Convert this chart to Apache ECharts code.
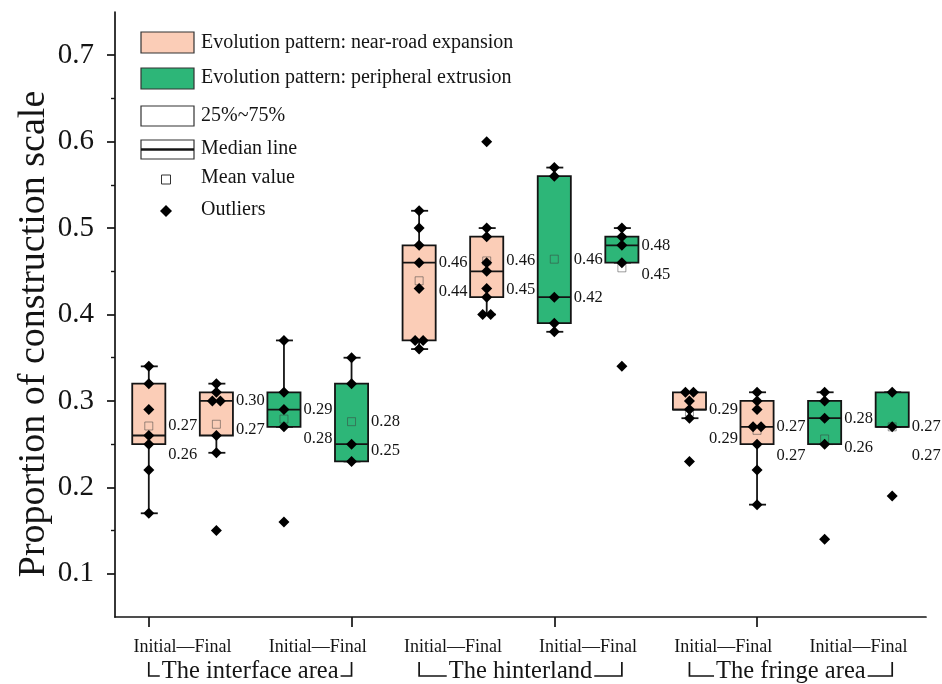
<!DOCTYPE html>
<html><head><meta charset="utf-8">
<script src="https://cdn.jsdelivr.net/npm/echarts@6/dist/echarts.min.js"></script>
<style>html,body{margin:0;padding:0;background:#fff}#c{width:942px;height:684px}</style>
</head><body><div id="c"></div>
<script>
// ---------------- data ----------------
const areas = ['The interface area', 'The hinterland', 'The fringe area'];
const pairLabels = ['Initial—Final', 'Initial—Final', 'Initial—Final', 'Initial—Final', 'Initial—Final', 'Initial—Final'];
const categories = [
  'Interface NR Initial', 'Interface NR Final', 'Interface PE Initial', 'Interface PE Final',
  'Hinterland NR Initial', 'Hinterland NR Final', 'Hinterland PE Initial', 'Hinterland PE Final',
  'Fringe NR Initial', 'Fringe NR Final', 'Fringe PE Initial', 'Fringe PE Final'
];
const patterns = ['near-road', 'near-road', 'peripheral', 'peripheral',
                  'near-road', 'near-road', 'peripheral', 'peripheral',
                  'near-road', 'near-road', 'peripheral', 'peripheral'];
// [lower whisker, Q1, median, Q3, upper whisker]
const boxStats = [
  [0.17, 0.25, 0.26, 0.32, 0.34],
  [0.24, 0.26, 0.30, 0.31, 0.32],
  [0.27, 0.27, 0.29, 0.31, 0.37],
  [0.23, 0.23, 0.25, 0.32, 0.35],
  [0.36, 0.37, 0.46, 0.48, 0.52],
  [0.40, 0.42, 0.45, 0.49, 0.50],
  [0.38, 0.39, 0.42, 0.56, 0.57],
  [0.46, 0.46, 0.48, 0.49, 0.50],
  [0.28, 0.29, 0.29, 0.31, 0.31],
  [0.18, 0.25, 0.27, 0.30, 0.31],
  [0.25, 0.25, 0.28, 0.30, 0.31],
  [0.27, 0.27, 0.27, 0.31, 0.31]
];
const means = [0.271, 0.273, 0.279, 0.276, 0.439, 0.462, 0.464, 0.454, 0.287, 0.266, 0.256, 0.27];
const points = [
  [0.34, 0.32, 0.29, 0.26, 0.25, 0.22, 0.17],
  [0.32, 0.31, 0.30, 0.30, 0.26, 0.24],
  [0.37, 0.31, 0.29, 0.27],
  [0.35, 0.32, 0.25, 0.23],
  [0.52, 0.50, 0.48, 0.46, 0.43, 0.37, 0.37, 0.36],
  [0.50, 0.49, 0.46, 0.45, 0.43, 0.42, 0.40, 0.40],
  [0.57, 0.56, 0.42, 0.39, 0.38],
  [0.50, 0.49, 0.48, 0.46],
  [0.31, 0.31, 0.30, 0.29, 0.28],
  [0.31, 0.30, 0.29, 0.27, 0.27, 0.25, 0.22, 0.18],
  [0.31, 0.30, 0.28, 0.25],
  [0.31, 0.27]
];
const outliers = [[], [0.15], [0.16], [], [], [0.60], [], [0.34], [0.23], [], [0.14], [0.19]];
const yMajorTicks = [0.1, 0.2, 0.3, 0.4, 0.5, 0.6, 0.7];
const yMinorTicks = [0.15, 0.25, 0.35, 0.45, 0.55, 0.65];
const yAxisName = 'Proportion of construction scale';
const legendLabels = [
  'Evolution pattern: near-road expansion',
  'Evolution pattern: peripheral extrusion',
  '25%~75%',
  'Median line',
  'Mean value',
  'Outliers'
];

// ---------------- styles ----------------
const FONT = '"Liberation Serif", "Times New Roman", serif';
const INK = '#141414';
const colors = { 'near-road': '#FBCDB7', 'peripheral': '#2DB678' };

// ---------------- build ----------------
const boxData = boxStats.map((s, i) => [i, s[0], s[1], s[2], s[3], s[4], means[i]]);

const pointData = [];
points.forEach((arr, i) => {
  const counts = {}, seen = {};
  arr.forEach(v => { counts[v] = (counts[v] || 0) + 1; });
  arr.forEach(v => {
    let dx = 0;
    if (counts[v] > 1) { dx = (seen[v] || 0) === 0 ? -4 : 4; seen[v] = (seen[v] || 0) + 1; }
    pointData.push({ value: [i, v], symbolOffset: [dx, 0] });
  });
});
const outlierData = [];
outliers.forEach((arr, i) => arr.forEach(v => outlierData.push([i, v])));

function renderBox(params, api) {
  const i = api.value(0);
  const low = api.value(1), q1 = api.value(2), med = api.value(3), q3 = api.value(4), high = api.value(5), mean = api.value(6);
  const pLow = api.coord([i, low]);
  const cx = pLow[0];
  const yLow = pLow[1];
  const yQ1 = api.coord([i, q1])[1];
  const yMed = api.coord([i, med])[1];
  const yQ3 = api.coord([i, q3])[1];
  const yHigh = api.coord([i, high])[1];
  const yMean = api.coord([i, mean])[1];
  const bw = api.size([1, 0])[0] * 0.49;
  const fill = colors[patterns[params.dataIndex]];
  const ls = { stroke: INK, lineWidth: 1.8 };
  const ch = [];
  ch.push({ type: 'line', shape: { x1: cx, y1: yHigh, x2: cx, y2: yLow }, style: ls });
  ch.push({ type: 'line', shape: { x1: cx - 8, y1: yHigh, x2: cx + 9, y2: yHigh }, style: ls });
  ch.push({ type: 'line', shape: { x1: cx - 8, y1: yLow, x2: cx + 9, y2: yLow }, style: ls });
  ch.push({ type: 'rect', shape: { x: cx - bw / 2, y: yQ3, width: bw, height: yQ1 - yQ3 }, style: { fill: fill, stroke: INK, lineWidth: 1.8 } });
  ch.push({ type: 'line', shape: { x1: cx - bw / 2, y1: yMed, x2: cx + bw / 2, y2: yMed }, style: ls });
  ch.push({ type: 'rect', shape: { x: cx - 4, y: yMean - 4, width: 8, height: 8 }, style: { fill: 'none', stroke: 'rgba(60,60,60,0.5)', lineWidth: 1 } });
  // labels: the higher value at its own level, the other below it
  let upY, upV, loY, loV;
  if (yMean <= yMed) { upY = yMean; upV = mean; loY = yMed; loV = med; }
  else { upY = yMed; upV = med; loY = yMean; loV = mean; }
  loY = Math.max(loY, upY + 29);
  const lx = cx + bw / 2 + 3;
  const tstyle = (t, y) => ({ type: 'text', x: lx, y: y, style: { text: t, font: '16.5px ' + FONT, fill: INK, align: 'left', verticalAlign: 'middle' } });
  ch.push(tstyle(upV.toFixed(2), upY));
  ch.push(tstyle(loV.toFixed(2), loY));
  return { type: 'group', children: ch };
}

const chart = echarts.init(document.getElementById('c'), null, { renderer: 'canvas' });

const option = {
  animation: false,
  backgroundColor: '#fff',
  grid: { left: 115, right: 16, top: 12, bottom: 67, containLabel: false },
  xAxis: [
    {
      type: 'category', data: categories, boundaryGap: true,
      axisLine: { show: true, lineStyle: { color: INK, width: 1.7 } },
      axisTick: { show: true, alignWithLabel: true, length: 10, lineStyle: { color: INK, width: 1.7 } },
      axisLabel: { show: false }, splitLine: { show: false }
    },
    {
      type: 'category', data: pairLabels, position: 'bottom', boundaryGap: true,
      axisLine: { show: false }, axisTick: { show: false }, splitLine: { show: false },
      axisLabel: { fontFamily: FONT, fontSize: 18, color: INK, margin: 21 }
    }
  ],
  yAxis: [
    {
      type: 'value', min: 0.05, max: 0.75, position: 'left',
      axisLine: { show: true, lineStyle: { color: INK, width: 1.7 } },
      axisTick: { show: true, length: 8, customValues: yMajorTicks, lineStyle: { color: INK, width: 1.7 } },
      axisLabel: { customValues: yMajorTicks, formatter: v => v.toFixed(1), fontFamily: FONT, fontSize: 29, color: INK, margin: 21 },
      splitLine: { show: false }
    },
    {
      type: 'value', min: 0.05, max: 0.75, position: 'left', offset: 0,
      axisLine: { show: false },
      axisTick: { show: true, length: 4, customValues: yMinorTicks, lineStyle: { color: INK, width: 1.4 } },
      axisLabel: { show: false }, splitLine: { show: false }
    }
  ],
  series: [
    {
      type: 'custom', name: 'boxes', xAxisIndex: 0, yAxisIndex: 0,
      renderItem: renderBox, data: boxData, z: 2,
      encode: { x: 0, y: [1, 2, 3, 4, 5, 6] }
    },
    {
      type: 'scatter', name: 'points', xAxisIndex: 0, yAxisIndex: 0,
      symbol: 'diamond', symbolSize: 11, itemStyle: { color: '#000', opacity: 1 }, data: pointData, z: 4
    },
    {
      type: 'scatter', name: 'outliers', xAxisIndex: 0, yAxisIndex: 0,
      symbol: 'diamond', symbolSize: 11, itemStyle: { color: '#000', opacity: 1 }, data: outlierData, z: 4
    }
  ]
};
chart.setOption(option);

// ---------------- legend, y-axis title, group brackets (graphic) ----------------
const lgFont = '20px ' + FONT;
const lgX = 141, lgW = 53, lgTx = 201;
const gfx = [
  { type: 'rect', shape: { x: lgX, y: 32, width: lgW, height: 21 }, style: { fill: colors['near-road'], stroke: '#333', lineWidth: 1.2 } },
  { type: 'text', x: lgTx, y: 43, style: { text: legendLabels[0], font: lgFont, fill: INK, align: 'left', verticalAlign: 'middle' } },
  { type: 'rect', shape: { x: lgX, y: 68, width: lgW, height: 21 }, style: { fill: colors['peripheral'], stroke: '#333', lineWidth: 1.2 } },
  { type: 'text', x: lgTx, y: 78, style: { text: legendLabels[1], font: lgFont, fill: INK, align: 'left', verticalAlign: 'middle' } },
  { type: 'rect', shape: { x: lgX, y: 106, width: lgW, height: 20 }, style: { fill: '#fff', stroke: '#333', lineWidth: 1.2 } },
  { type: 'text', x: lgTx, y: 116, style: { text: legendLabels[2], font: lgFont, fill: INK, align: 'left', verticalAlign: 'middle' } },
  { type: 'rect', shape: { x: lgX, y: 140, width: lgW, height: 19 }, style: { fill: '#fff', stroke: '#333', lineWidth: 1.2 } },
  { type: 'line', shape: { x1: lgX, y1: 149.5, x2: lgX + lgW, y2: 149.5 }, style: { stroke: INK, lineWidth: 2.6 } },
  { type: 'text', x: lgTx, y: 149, style: { text: legendLabels[3], font: lgFont, fill: INK, align: 'left', verticalAlign: 'middle' } },
  { type: 'rect', shape: { x: 161.5, y: 175, width: 9, height: 9 }, style: { fill: '#fff', stroke: '#333', lineWidth: 1 } },
  { type: 'text', x: lgTx, y: 178, style: { text: legendLabels[4], font: lgFont, fill: INK, align: 'left', verticalAlign: 'middle' } },
  { type: 'polygon', shape: { points: [[166, 205], [172, 211], [166, 217], [160, 211]] }, style: { fill: '#000' } },
  { type: 'text', x: lgTx, y: 210, style: { text: legendLabels[5], font: lgFont, fill: INK, align: 'left', verticalAlign: 'middle' } },
  { type: 'text', x: 34, y: 334, rotation: Math.PI / 2,
    style: { text: yAxisName, font: '38px ' + FONT, fill: INK, align: 'center', verticalAlign: 'middle' } }
];

const axisY = chart.convertToPixel({ yAxisIndex: 0 }, 0.05);
areas.forEach((name, g) => {
  const x1 = chart.convertToPixel({ xAxisIndex: 0 }, categories[g * 4]);
  const x2 = chart.convertToPixel({ xAxisIndex: 0 }, categories[g * 4 + 3]);
  const yT = axisY + 45, yB = axisY + 59;
  gfx.push({ type: 'polyline', shape: { points: [[x1, yT], [x1, yB], [x2, yB], [x2, yT]] }, style: { stroke: INK, lineWidth: 1.7, fill: null }, z: 5 });
  gfx.push({ type: 'text', x: (x1 + x2) / 2, y: axisY + 55, z: 6,
    style: { text: name, font: '24.5px ' + FONT, fill: INK, align: 'center', verticalAlign: 'middle', backgroundColor: '#fff', padding: [0, 2] } });
});
chart.setOption({ graphic: { elements: gfx } });
</script>
</body></html>
